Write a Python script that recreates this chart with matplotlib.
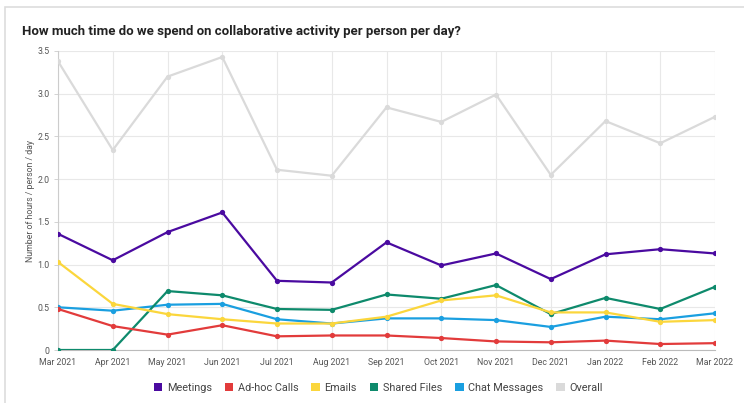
import matplotlib.pyplot as plt
from matplotlib.patches import Rectangle

plt.rcParams['font.family'] = ['Roboto', 'DejaVu Sans']

months = ['Mar 2021', 'Apr 2021', 'May 2021', 'Jun 2021', 'Jul 2021', 'Aug 2021', 'Sep 2021',
          'Oct 2021', 'Nov 2021', 'Dec 2021', 'Jan 2022', 'Feb 2022', 'Mar 2022']

meetings = [1.36, 1.05, 1.38, 1.61, 0.81, 0.79, 1.26, 0.99, 1.13, 0.83, 1.12, 1.18, 1.13]
adhoc_calls = [0.48, 0.28, 0.18, 0.29, 0.16, 0.17, 0.17, 0.14, 0.10, 0.09, 0.11, 0.07, 0.08]
emails = [1.03, 0.54, 0.42, 0.36, 0.31, 0.31, 0.39, 0.58, 0.64, 0.44, 0.44, 0.33, 0.35]
shared_files = [0, 0, 0.69, 0.64, 0.48, 0.47, 0.65, 0.60, 0.76, 0.42, 0.61, 0.48, 0.74]
chat_messages = [0.50, 0.46, 0.53, 0.54, 0.36, 0.31, 0.37, 0.37, 0.35, 0.27, 0.39, 0.36, 0.43]
overall = [3.38, 2.34, 3.20, 3.43, 2.11, 2.04, 2.84, 2.67, 2.99, 2.05, 2.68, 2.42, 2.73]

series = [
    ('Meetings', meetings, '#4a0aa0'),
    ('Ad-hoc Calls', adhoc_calls, '#e23b3b'),
    ('Emails', emails, '#fbd63c'),
    ('Shared Files', shared_files, '#0e8a6c'),
    ('Chat Messages', chat_messages, '#1a9fe0'),
    ('Overall', overall, '#dadada'),
]

yticks = [0, 0.5, 1.0, 1.5, 2.0, 2.5, 3.0, 3.5]
ytick_labels = ['0', '0.5', '1.0', '1.5', '2.0', '2.5', '3.0', '3.5']

fig = plt.figure(figsize=(7.44, 4.03), dpi=100)
fig.patch.set_facecolor('white')

# card outline
fig.patches.append(Rectangle((5 / 744, -0.1), 1.2, (403 - 7) / 403 + 0.1, transform=fig.transFigure,
                             facecolor='white', edgecolor='#dddddd', linewidth=1.2, zorder=-1))

ax = fig.add_axes([58 / 744, 53 / 403, (715 - 58) / 744, (350 - 51) / 403])
x = list(range(len(months)))

# draw overall first so it sits behind
for name, vals, color in reversed(series):
    ax.plot(x, vals, color=color, linewidth=1.6, marker='o', markersize=3.8,
            markeredgewidth=0, label=name, zorder=3)

ax.set_xlim(0, len(months) - 1)
ax.set_ylim(0, 3.5)
ax.set_xticks(x)
ax.set_xticklabels(months, fontsize=6.3, color='#555555')
ax.set_yticks(yticks)
ax.set_yticklabels(ytick_labels, fontsize=6.3, color='#555555')
ax.tick_params(axis='both', length=3, width=0.6, color='#cccccc', pad=3)
ax.tick_params(axis='x', length=0, pad=6)
ax.grid(True, color='#e8e8e8', linewidth=0.8)
ax.set_axisbelow(True)
for side in ['top', 'right']:
    ax.spines[side].set_visible(False)
ax.spines['left'].set_color('#cccccc')
ax.spines['bottom'].set_color('#bbbbbb')
ax.spines['left'].set_linewidth(0.8)
ax.spines['bottom'].set_linewidth(0.8)

ax.set_ylabel('Number of hours / person / day', fontsize=6.3, color='#555555', labelpad=2)

fig.text(22 / 744, 1 - 32 / 403, 'How much time do we spend on collaborative activity per person per day?',
         fontsize=9.5, fontweight='bold', color='#222222', va='center', ha='left')

handles = [Rectangle((0, 0), 1, 1, facecolor=c, edgecolor='none') for _, _, c in series]
labels = [n for n, _, _ in series]
fig.legend(handles, labels, loc='center', bbox_to_anchor=(378 / 744, 1 - 388 / 403), ncol=6,
           frameon=False, fontsize=7.8, handlelength=0.8, handleheight=0.8, handletextpad=0.4,
           columnspacing=1.2, labelcolor='#444444')

fig.savefig('out.png', dpi=100)
